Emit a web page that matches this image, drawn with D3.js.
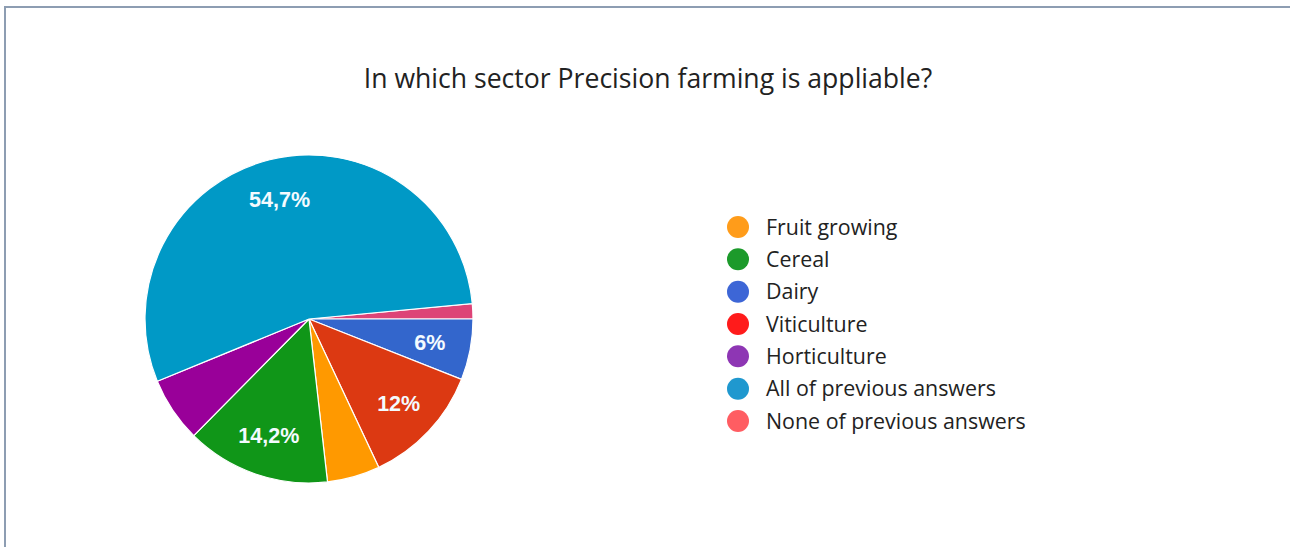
<!DOCTYPE html>
<html>
<head>
<meta charset="utf-8">
<script src="https://cdn.jsdelivr.net/npm/d3@7"></script>
<style>
  html, body { margin: 0; padding: 0; background: #fff; }
  svg { display: block; }
</style>
</head>
<body>
<svg id="chart" width="1290" height="547"></svg>
<script>
// Survey answers, in the order they appear around the pie (clockwise)
const sliceNames = ["None of previous answers", "Dairy", "Viticulture", "Fruit growing", "Cereal", "Horticulture", "All of previous answers"];
const sliceShares = [1.5, 6, 12, 5.2, 14.2, 6.4, 54.7];
const sliceColors = ["#dd4477", "#3366cc", "#dc3912", "#ff9900", "#109618", "#990099", "#0099c6"];
const sliceLabels = ["", "6%", "12%", "", "14,2%", "", "54,7%"];

// Legend entries, in listing order
const legendNames = ["Fruit growing", "Cereal", "Dairy", "Viticulture", "Horticulture", "All of previous answers", "None of previous answers"];
const legendColors = ["#ff9c1a", "#1c9a2b", "#3d66d6", "#ff1b1b", "#8e36b4", "#1f98cf", "#ff5d62"];

const chartTitle = "In which sector Precision farming is appliable?";

const svg = d3.select("#chart");
const W = 1290, H = 547;

// outer frame
svg.append("path")
  .attr("d", `M5,${H} L5,7 L${W},7`)
  .attr("fill", "none")
  .attr("stroke", "#8d9db2")
  .attr("stroke-width", 2);

svg.append("text")
  .attr("x", 648)
  .attr("y", 88)
  .attr("text-anchor", "middle")
  .attr("font-family", "'Open Sans', sans-serif")
  .attr("font-size", 26.6)
  .attr("fill", "#222")
  .text(chartTitle);

// pie
const cx = 309, cy = 319, radius = 164;
const total = d3.sum(sliceShares);
const startOffset = Math.PI / 2 - (sliceShares[0] / total) * 2 * Math.PI;

const pie = d3.pie()
  .sort(null)
  .value(d => d.value)
  .startAngle(startOffset)
  .endAngle(startOffset + 2 * Math.PI);

const data = sliceNames.map((n, i) => ({ name: n, value: sliceShares[i], color: sliceColors[i], label: sliceLabels[i] }));
const arcs = pie(data);

const arc = d3.arc().innerRadius(0).outerRadius(radius);
const labelArc = d3.arc().innerRadius(radius * 0.75).outerRadius(radius * 0.75);

const g = svg.append("g").attr("transform", `translate(${cx},${cy})`);

g.selectAll("path.slice")
  .data(arcs)
  .join("path")
  .attr("class", "slice")
  .attr("d", arc)
  .attr("fill", d => d.data.color)
  .attr("stroke", "#fff")
  .attr("stroke-width", 1.2);

g.selectAll("text.pct")
  .data(arcs.filter(d => d.data.label))
  .join("text")
  .attr("class", "pct")
  .attr("transform", d => `translate(${labelArc.centroid(d)})`)
  .attr("text-anchor", "middle")
  .attr("dy", "0.36em")
  .attr("font-family", "Arial, 'Liberation Sans', sans-serif")
  .attr("font-size", 21.5)
  .attr("font-weight", "bold")
  .attr("fill", "#f4fbff")
  .text(d => d.data.label);

// legend
const legendY = d3.scalePoint()
  .domain(legendNames)
  .range([227, 421]);

const lg = svg.append("g");
const rows = lg.selectAll("g.row")
  .data(legendNames)
  .join("g")
  .attr("class", "row")
  .attr("transform", d => `translate(738,${legendY(d)})`);

rows.append("circle")
  .attr("r", 11)
  .attr("fill", (d, i) => legendColors[i]);

rows.append("text")
  .attr("x", 28)
  .attr("dy", "0.35em")
  .attr("font-family", "'Open Sans', sans-serif")
  .attr("font-size", 21.4)
  .attr("fill", "#222")
  .text(d => d);
</script>
</body>
</html>
